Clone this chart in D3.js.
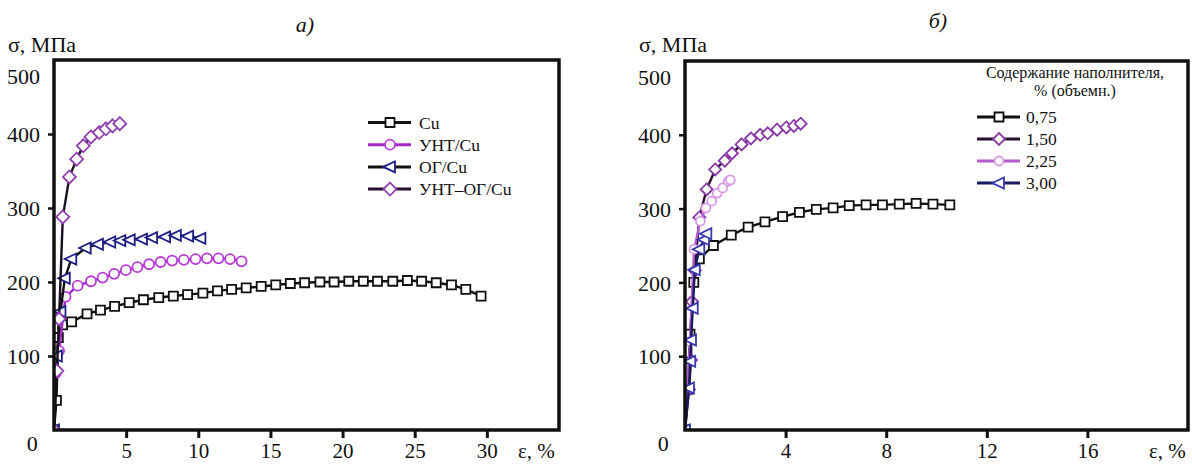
<!DOCTYPE html>
<html><head><meta charset="utf-8">
<script src="https://cdn.jsdelivr.net/npm/d3@7"></script>
<style>body{margin:0;background:#fff}svg{display:block}svg text{font-family:"Liberation Serif","Times New Roman",serif !important;fill:#111}</style>
</head><body><svg id="c" width="1192" height="464"></svg>
<script>
// ---- Panel a data ----
const aLegend = ["Cu", "УНТ/Cu", "ОГ/Cu", "УНТ–ОГ/Cu"];
const aCuX = [0, 0.17, 0.3, 0.6, 1.22, 2.29, 3.22, 4.20, 5.21, 6.20, 7.26, 8.27, 9.26, 10.32, 11.33, 12.31, 13.32, 14.36, 15.37, 16.38, 17.37, 18.43, 19.41, 20.43, 21.44, 22.42, 23.48, 24.49, 25.48, 26.49, 27.55, 28.54, 29.60];
const aCuY = [0, 40, 125, 142, 146, 157, 162, 167, 172, 176, 179, 181, 183, 185, 188, 190, 192, 194, 196, 198, 199, 200, 200, 201, 201, 201, 201, 202, 201, 199, 196, 190, 181];
const aUnX = [0, 0.13, 0.35, 0.8, 1.64, 2.56, 3.37, 4.17, 4.98, 5.78, 6.59, 7.39, 8.19, 9.0, 9.81, 10.6, 11.4, 12.2, 13.0];
const aUnY = [0, 77, 107, 180, 195, 201, 206, 211, 216, 220, 224, 227, 229, 230, 231, 232, 232, 231, 228];
const aOgX = [0, 0.2, 0.45, 0.75, 1.2, 2.2, 3.05, 3.9, 4.6, 5.25, 6.1, 6.8, 7.7, 8.45, 9.3, 10.15];
const aOgY = [0, 100, 160, 205, 231, 246, 251, 254, 256, 257, 258, 260, 261, 263, 262, 259];
const aDoX = [0, 0.2, 0.35, 0.61, 1.07, 1.57, 2.03, 2.56, 3.14, 3.6, 4.06, 4.56];
const aDoY = [0, 80, 150, 288, 342, 366, 384, 396, 402, 407, 411, 414];
const aXTicks = [5, 10, 15, 20, 25, 30];
// ---- Panel b data ----
const bLegendTitle = ["Содержание наполнителя,", "%  (объемн.)"];
const bLegend = ["0,75", "1,50", "2,25", "3,00"];
const b075X = [0, 0.12, 0.2, 0.35, 0.57, 1.13, 1.84, 2.51, 3.18, 3.88, 4.55, 5.22, 5.89, 6.53, 7.2, 7.85, 8.52, 9.19, 9.86, 10.53];
const b075Y = [0, 55, 130, 200, 232, 250, 264, 275, 282, 289, 295, 299, 301, 304, 305, 305, 306, 307, 306, 305];
const b150X = [0, 0.16, 0.24, 0.28, 0.39, 0.57, 0.86, 1.2, 1.58, 1.87, 2.25, 2.62, 2.99, 3.29, 3.66, 4.03, 4.33, 4.6];
const b150Y = [0, 55, 95, 174, 216, 288, 326, 353, 365, 375, 387, 395, 400, 402, 407, 410, 412, 415];
const b225X = [0, 0.2, 0.36, 0.61, 0.83, 1.06, 1.28, 1.5, 1.72, 1.8];
const b225Y = [0, 120, 245, 283, 301, 310, 321, 328, 337, 339];
const b300X = [0, 0.16, 0.21, 0.24, 0.31, 0.39, 0.57, 0.76, 0.85];
const b300Y = [0, 57, 93, 122, 165, 217, 245, 258, 266];
const bXTicks = [4, 8, 12, 16];
const yTicks = [0, 100, 200, 300, 400, 500];

const svg = d3.select("#c");
const FONT = '"Liberation Serif", "Times New Roman", serif';

function markerPath(type, s) {
  if (type === "square") return `M${-s/2},${-s/2}h${s}v${s}h${-s}Z`;
  if (type === "diamond") return `M0,${-s*0.5}L${s*0.5},0L0,${s*0.5}L${-s*0.5},0Z`;
  if (type === "tri") return `M${-s*0.6},0L${s*0.45},${-s*0.5}L${s*0.45},${s*0.5}Z`;
  return null;
}
function drawMarker(g, type, x, y, color, s) {
  if (type === "circle") {
    g.append("circle").attr("cx", x).attr("cy", y).attr("r", s/2).attr("fill", "#fff").attr("stroke", color).attr("stroke-width", 1.8);
  } else {
    g.append("path").attr("transform", `translate(${x},${y})`).attr("d", markerPath(type, s)).attr("fill", "#fff").attr("stroke", color).attr("stroke-width", 1.8);
  }
}

function panel(opt) {
  const x = d3.scaleLinear().domain(opt.xDomain).range([opt.left, opt.right]);
  const y = d3.scaleLinear().domain([0, 500]).range([opt.bottom, opt.top]);
  const g = svg.append("g");
  const clipId = "clip" + opt.id;
  svg.append("clipPath").attr("id", clipId).append("rect")
    .attr("x", opt.left).attr("y", opt.top).attr("width", opt.right - opt.left).attr("height", opt.bottom - opt.top);

  // series
  const plot = g.append("g").attr("clip-path", `url(#${clipId})`);
  opt.series.forEach(s => {
    const pts = s.xs.map((v, i) => [v, s.ys[i]]);
    plot.append("path").attr("d", d3.line().x(d => x(d[0])).y(d => y(d[1]))(pts))
      .attr("fill", "none").attr("stroke", s.line).attr("stroke-width", 2.4).attr("stroke-linejoin", "round");
    pts.forEach(d => drawMarker(plot, s.marker, x(d[0]), y(d[1]), s.color, s.size));
  });

  // y axis
  const ya = g.append("g").attr("transform", `translate(${opt.left},0)`)
    .call(d3.axisLeft(y).tickValues(yTicks).tickSize(6).tickPadding(8));
  ya.attr("font-family", FONT);
  ya.select(".domain").remove();
  ya.selectAll(".tick line").attr("stroke", "#111").attr("stroke-width", 2.5);
  ya.selectAll(".tick text").attr("font-size", 22).style("font-family", FONT).attr("fill", "#111")
    .attr("dy", d => d === 500 ? "1.05em" : d === 0 ? "0.95em" : "0.35em")
    .attr("dx", d => d === 0 ? "-0.1em" : "0");
  ya.selectAll(".tick").filter(d => d === 0 || d === 500).select("line").remove();

  // x axis
  const xa = g.append("g").attr("transform", `translate(0,${opt.bottom})`)
    .call(d3.axisBottom(x).tickValues(opt.xTicks).tickSize(8).tickPadding(5));
  xa.attr("font-family", FONT);
  xa.select(".domain").remove();
  xa.selectAll(".tick line").attr("stroke", "#111").attr("stroke-width", 3);
  xa.selectAll(".tick text").attr("font-size", 21).style("font-family", FONT).attr("fill", "#111");

  // frame
  g.append("rect").attr("x", opt.left).attr("y", opt.top).attr("width", opt.right - opt.left).attr("height", opt.bottom - opt.top)
    .attr("fill", "none").attr("stroke", "#111").attr("stroke-width", 3.5);

  // labels
  g.append("text").attr("x", opt.left - 46).attr("y", 52).attr("font-size", 22).style("font-family", FONT).text("σ, МПа");
  g.append("text").attr("x", opt.epsX).attr("y", 458).attr("font-size", 21).style("font-family", FONT).text("ε, %");
  g.append("text").attr("x", opt.titleX).attr("y", opt.titleY).attr("font-size", 22).style("font-family", FONT)
    .attr("font-style", "italic").attr("text-anchor", "middle").text(opt.title);

  // legend
  const lg = g.append("g");
  if (opt.legendTitle) {
    opt.legendTitle.forEach((t, i) => lg.append("text").attr("x", opt.legendTitleX).attr("y", 78 + i * 18)
      .attr("font-size", 16).style("font-family", FONT).attr("text-anchor", "middle").text(t));
  }
  opt.series.forEach((s, i) => {
    const ly = opt.legendY + i * opt.legendStep;
    lg.append("line").attr("x1", opt.legendX).attr("x2", opt.legendX + 43).attr("y1", ly).attr("y2", ly)
      .attr("stroke", s.legendLine || s.line).attr("stroke-width", 3);
    drawMarker(lg, s.marker, opt.legendX + 22, ly, s.color, s.size);
    lg.append("text").attr("x", opt.legendX + opt.legendTextDx).attr("y", ly + 6).attr("font-size", 17.5)
      .style("font-family", FONT).text(opt.legend[i]);
  });
}

panel({
  id: "a", left: 54, right: 559, top: 60, bottom: 430, xDomain: [0, 35], xTicks: aXTicks,
  epsX: 518, title: "а)", titleX: 305, titleY: 32,
  legend: aLegend, legendX: 368, legendY: 122.5, legendStep: 22.2, legendTextDx: 51,
  series: [
    {xs: aCuX, ys: aCuY, line: "#111", color: "#111", marker: "square", size: 9},
    {xs: aUnX, ys: aUnY, line: "#a229c9", color: "#b93ad6", marker: "circle", size: 10},
    {xs: aOgX, ys: aOgY, line: "#111", color: "#1d1d86", marker: "tri", size: 11},
    {xs: aDoX, ys: aDoY, line: "#1a0f1f", color: "#9040b0", marker: "diamond", size: 13, legendLine: "#2a1030"}
  ]
});

panel({
  id: "b", left: 685, right: 1188, top: 61, bottom: 430, xDomain: [0, 20], xTicks: bXTicks,
  epsX: 1149, title: "б)", titleX: 938, titleY: 28,
  legend: bLegend, legendX: 977, legendY: 117, legendStep: 22, legendTextDx: 49,
  legendTitle: bLegendTitle, legendTitleX: 1075,
  series: [
    {xs: b075X, ys: b075Y, line: "#111", color: "#111", marker: "square", size: 9},
    {xs: b150X, ys: b150Y, line: "#2a1030", color: "#8a3aa8", marker: "diamond", size: 12},
    {xs: b225X, ys: b225Y, line: "#b35bd0", color: "#d79be6", marker: "circle", size: 9},
    {xs: b300X, ys: b300Y, line: "#1b1b5e", color: "#3a3ab0", marker: "tri", size: 11}
  ]
});
</script></body></html>
